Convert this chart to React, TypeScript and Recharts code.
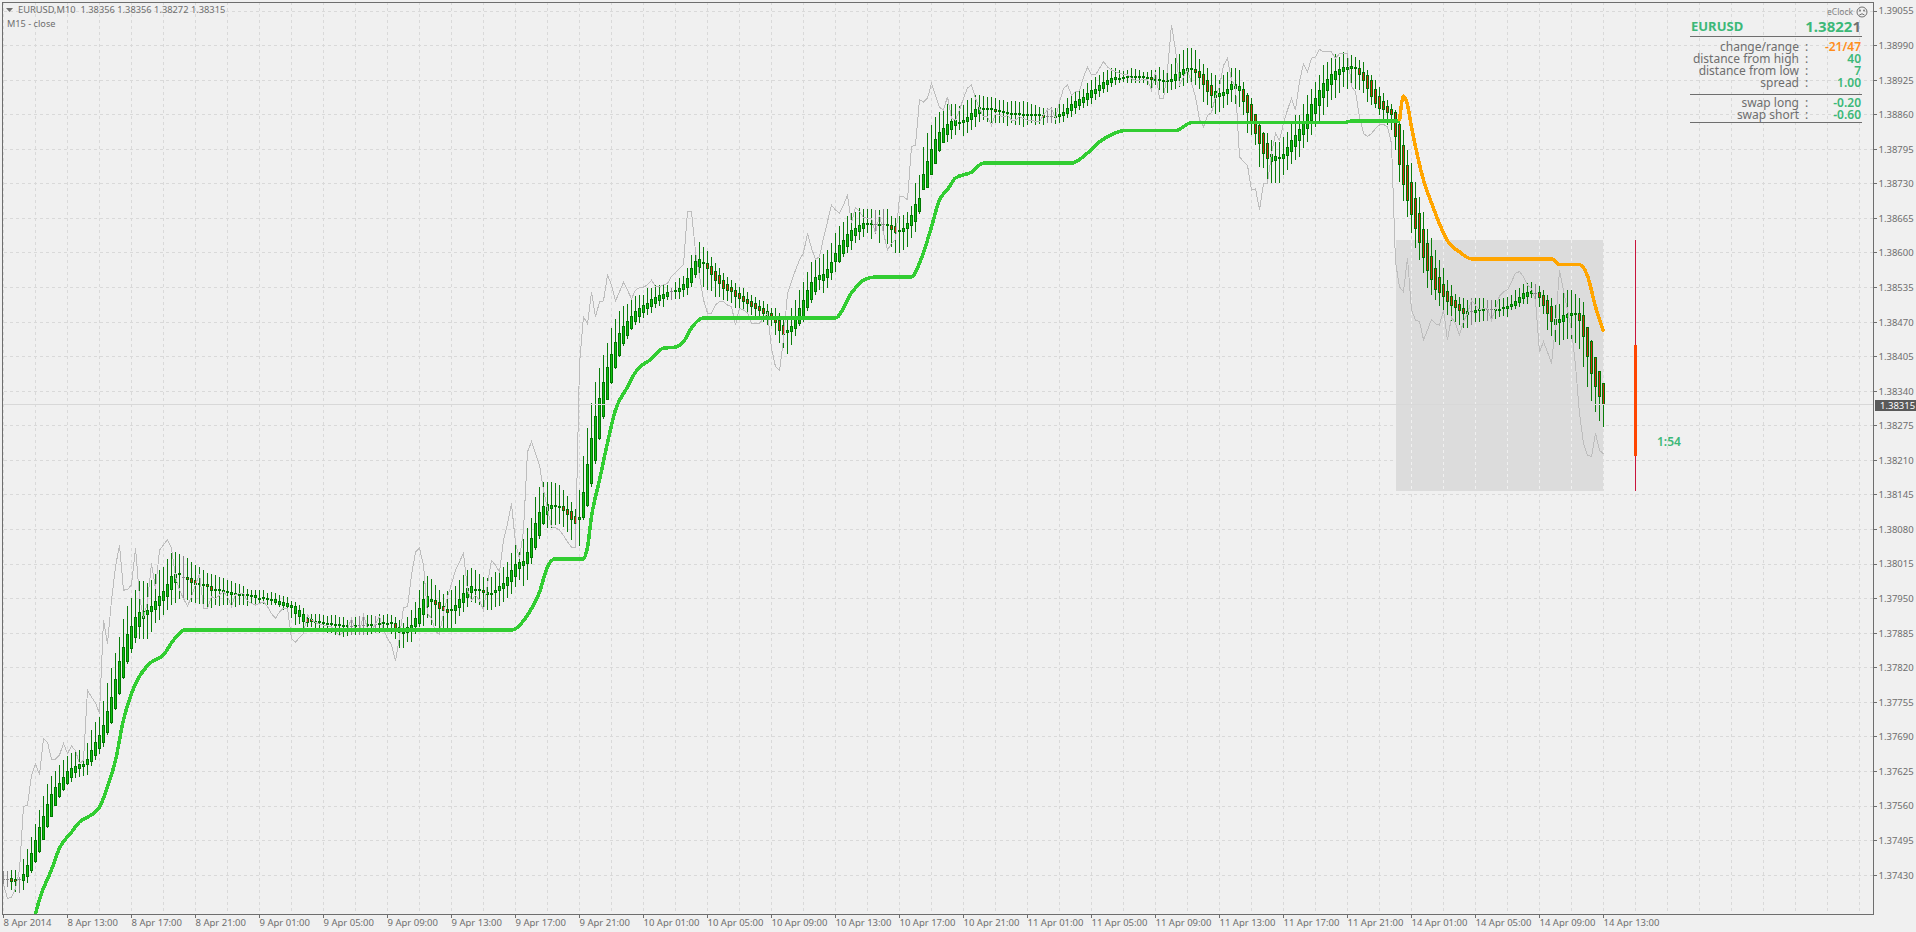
import { ComposedChart, Bar, Line, XAxis, YAxis, CartesianGrid, ReferenceArea, ReferenceLine } from "recharts";

// prices are kept as points (138356 = 1.38356)
const candleHigh = [
  137438,137438,137439,137439,137426,137461,137480,137502,137527,137552,
  137579,137601,137616,137626,137637,137646,137654,137659,137662,137665,
  137658,137678,137703,137718,137727,137757,137791,137819,137847,137878,
  137911,137936,137952,137967,137983,137983,137980,137985,137997,138004,
  138010,138024,138035,138038,138034,138030,138026,138018,138013,138010,
  138004,137999,137997,137994,137991,137988,137985,137984,137979,137977,
  137974,137969,137967,137967,137966,137966,137960,137963,137960,137957,
  137955,137954,137946,137944,137938,137932,137921,137922,137922,137922,
  137919,137917,137919,137919,137915,137915,137910,137915,137915,137917,
  137919,137919,137919,137917,137922,137919,137922,137919,137916,137910,
  137905,137916,137929,137944,137967,137983,137993,137987,137975,137967,
  137958,137965,137966,137974,137985,137994,138003,138007,138003,137997,
  137991,137988,137991,138000,138003,138010,138019,138035,138054,138038,
  138063,138082,138101,138141,138160,138170,138170,138170,138168,138163,
  138154,138143,138132,138119,138154,138218,138270,138317,138358,138383,
  138408,138431,138459,138476,138491,138500,138505,138514,138519,138521,
  138521,138534,138534,138540,138540,138540,138540,138534,138546,138553,
  138556,138571,138596,138606,138620,138612,138603,138593,138581,138571,
  138562,138554,138549,138543,138537,138534,138527,138521,138518,138512,
  138509,138504,138496,138496,138487,138480,138477,138496,138512,138531,
  138546,138565,138583,138590,138590,138598,138606,138618,138637,138650,
  138659,138669,138675,138678,138684,138683,138683,138682,138681,138681,
  138683,138682,138669,138665,138669,138672,138678,138689,138731,138747,
  138800,138825,138840,138856,138866,138872,138881,138880,138881,138876,
  138878,138888,138891,138897,138897,138895,138894,138893,138891,138888,
  138888,138884,138886,138886,138884,138886,138884,138881,138878,138875,
  138872,138872,138874,138872,138881,138881,138892,138897,138903,138906,
  138909,138919,138926,138931,138935,138941,138944,138948,138947,138944,
  138943,138944,138947,138946,138944,138941,138941,138944,138944,138950,
  138944,138947,138956,138966,138975,138982,138985,138985,138982,138964,
  138956,138947,138938,138935,138925,138935,138941,138947,138947,138944,
  138922,138900,138891,138862,138847,138828,138825,138812,138809,138809,
  138819,138828,138844,138859,138859,138881,138897,138909,138922,138935,
  138953,138960,138966,138975,138969,138978,138975,138972,138969,138963,
  138960,138945,138935,138925,138913,138900,138888,138881,138869,138851,
  138831,138794,138769,138734,138706,138678,138646,138628,138606,138587,
  138572,138549,138540,138523,138518,138515,138511,138515,138516,138515,
  138515,138511,138511,138511,138513,138515,138518,138521,138530,138535,
  138541,138543,138546,138541,138538,138530,138521,138515,138502,138505,
  138525,138530,138530,138523,138515,138508,138461,138436,138404,138378,
  138356,
];
const candleLow = [
  137413,137407,137402,137399,137397,137402,137416,137434,137452,137472,
  137496,137518,137539,137560,137576,137589,137599,137605,137613,137614,
  137616,137618,137635,137646,137658,137671,137693,137714,137740,137769,
  137799,137828,137848,137867,137875,137875,137875,137888,137905,137910,
  137919,137929,137938,137942,137950,137950,137947,137944,137942,137940,
  137938,137932,137932,137938,137936,137938,137938,137935,137935,137938,
  137938,137936,137940,137938,137942,137940,137938,137938,137938,137935,
  137929,137925,137913,137900,137903,137888,137897,137897,137892,137894,
  137891,137885,137885,137881,137881,137878,137880,137881,137881,137881,
  137881,137881,137883,137885,137885,137890,137888,137883,137875,137858,
  137858,137869,137869,137884,137897,137898,137913,137900,137898,137891,
  137891,137891,137891,137903,137917,137925,137934,137944,137941,137938,
  137931,137929,137929,137935,137936,137944,137952,137958,137972,137986,
  137973,137985,138016,138042,138063,138088,138082,138082,138088,138091,
  138085,138076,138060,138063,138049,138098,138123,138160,138204,138248,
  138287,138323,138353,138381,138405,138425,138439,138455,138464,138469,
  138477,138484,138487,138496,138500,138499,138512,138512,138513,138513,
  138518,138521,138537,138553,138556,138537,138531,138529,138518,138518,
  138512,138509,138506,138496,138493,138490,138487,138484,138480,138477,
  138471,138465,138462,138446,138430,138421,138411,138427,138443,138462,
  138471,138490,138506,138521,138531,138524,138534,138549,138565,138581,
  138593,138600,138606,138618,138625,138631,138637,138626,138636,138618,
  138637,138617,138612,138600,138600,138606,138612,138628,138640,138674,
  138718,138723,138746,138770,138790,138807,138809,138815,138822,138831,
  138820,138825,138831,138837,138847,138850,138847,138844,138844,138844,
  138844,138839,138844,138840,138840,138837,138840,138844,138840,138842,
  138840,138844,138844,138842,138844,138847,138853,138856,138862,138869,
  138872,138876,138881,138888,138893,138900,138903,138913,138916,138919,
  138922,138920,138919,138919,138919,138919,138916,138903,138916,138906,
  138900,138901,138906,138909,138913,138914,138919,138919,138916,138909,
  138884,138878,138872,138862,138866,138872,138878,138884,138881,138875,
  138859,138825,138822,138803,138762,138759,138737,138731,138731,138731,
  138746,138756,138768,138775,138781,138797,138809,138822,138837,138847,
  138859,138875,138888,138891,138900,138913,138909,138916,138909,138906,
  138900,138884,138878,138872,138859,138844,138841,138831,138793,138734,
  138697,138668,138638,138610,138587,138562,138534,138521,138512,138500,
  138493,138484,138473,138471,138464,138459,138459,138464,138471,138471,
  138473,138473,138474,138475,138479,138481,138479,138493,138494,138499,
  138504,138505,138515,138511,138499,138486,138455,138444,138433,138427,
  138436,138439,138439,138430,138419,138386,138348,138322,138301,138284,
  138272,
];
const candleOpen = [
  137423,137423,137424,137422,137422,137419,137426,137438,137454,137474,
  137497,137520,137540,137560,137577,137590,137601,137613,137623,137629,
  137634,137638,137643,137654,137668,137679,137697,137717,137742,137770,
  137800,137830,137856,137876,137896,137911,137919,137924,137929,137937,
  137945,137954,137967,137980,137996,137991,137990,137988,137985,137980,
  137977,137977,137974,137969,137964,137962,137960,137957,137956,137955,
  137957,137955,137953,137951,137951,137951,137950,137946,137942,137939,
  137937,137934,137932,137922,137915,137907,137913,137912,137907,137907,
  137905,137902,137902,137899,137898,137897,137897,137898,137897,137900,
  137900,137899,137899,137903,137901,137903,137903,137906,137905,137897,
  137888,137885,137891,137896,137903,137920,137935,137944,137947,137943,
  137937,137931,137927,137927,137933,137941,137952,137960,137966,137969,
  137967,137957,137960,137961,137965,137969,137973,137982,137991,138005,
  138012,138016,138027,138046,138068,138091,138108,138118,138123,138125,
  138125,138119,138114,138106,138098,138101,138125,138165,138208,138251,
  138291,138324,138355,138383,138407,138428,138444,138457,138471,138480,
  138488,138494,138499,138504,138510,138514,138518,138529,138526,138527,
  138530,138535,138544,138558,138571,138579,138581,138576,138566,138558,
  138549,138541,138536,138531,138524,138519,138514,138510,138506,138500,
  138496,138491,138487,138482,138474,138465,138449,138451,138457,138467,
  138480,138496,138512,138526,138549,138548,138553,138562,138583,138584,
  138598,138612,138622,138632,138639,138645,138652,138653,138654,138652,
  138655,138653,138652,138650,138640,138640,138645,138650,138659,138677,
  138718,138723,138746,138768,138792,138806,138822,138831,138839,138844,
  138845,138847,138851,138856,138862,138871,138869,138871,138870,138869,
  138864,138866,138863,138862,138862,138861,138861,138860,138859,138858,
  138859,138857,138857,138857,138856,138858,138861,138867,138873,138877,
  138883,138887,138892,138899,138905,138909,138915,138920,138925,138927,
  138928,138930,138930,138930,138930,138930,138929,138931,138926,138925,
  138923,138921,138921,138924,138930,138935,138940,138944,138946,138942,
  138936,138926,138916,138892,138894,138896,138899,138906,138908,138905,
  138909,138897,138881,138862,138840,138825,138806,138772,138773,138777,
  138777,138782,138790,138800,138811,138822,138834,138848,138862,138876,
  138892,138905,138916,138926,138935,138941,138944,138946,138946,138947,
  138941,138935,138925,138908,138895,138886,138877,138870,138865,138842,
  138803,138766,138733,138703,138675,138646,138618,138594,138571,138555,
  138541,138528,138519,138511,138504,138497,138491,138491,138488,138491,
  138491,138494,138494,138491,138491,138494,138495,138498,138500,138506,
  138513,138518,138522,138525,138526,138521,138511,138500,138475,138469,
  138471,138477,138481,138484,138487,138483,138461,138434,138404,138378,
  138356,
];
const candleClose = [
  137423,137423,137418,137418,137422,137432,137449,137471,137496,137520,
  137541,137564,137582,137595,137604,137614,137625,137631,137636,137640,
  137640,137648,137666,137681,137693,137712,137738,137766,137798,137832,
  137860,137883,137898,137915,137925,137927,137929,137937,137945,137955,
  137964,137977,137992,137997,137999,137991,137985,137980,137976,137976,
  137974,137971,137965,137966,137968,137966,137965,137962,137960,137959,
  137959,137958,137957,137956,137952,137954,137952,137950,137949,137945,
  137944,137941,137938,137936,137929,137922,137905,137907,137908,137908,
  137907,137905,137905,137903,137902,137900,137900,137898,137900,137900,
  137900,137902,137903,137903,137904,137906,137905,137902,137893,137885,
  137883,137897,137900,137914,137933,137950,137955,137949,137938,137931,
  137926,137923,137930,137939,137950,137961,137970,137973,137969,137965,
  137960,137963,137961,137967,137973,137980,137990,138003,138016,138019,
  138020,138037,138065,138093,138113,138125,138128,138126,138127,138123,
  138115,138108,138098,138091,138103,138151,138204,138253,138294,138328,
  138358,138385,138411,138432,138449,138462,138473,138482,138490,138496,
  138502,138506,138514,138517,138521,138523,138527,138529,138531,138534,
  138542,138553,138572,138585,138588,138583,138569,138558,138547,138541,
  138533,138529,138526,138518,138513,138507,138504,138499,138495,138490,
  138485,138480,138477,138468,138454,138445,138455,138463,138475,138497,
  138512,138530,138546,138554,138558,138561,138570,138583,138600,138615,
  138625,138636,138643,138647,138653,138656,138657,138656,138654,138655,
  138655,138655,138643,138638,138643,138647,138656,138672,138692,138703,
  138748,138773,138795,138814,138827,138835,138842,138848,138850,138847,
  138850,138856,138863,138871,138874,138872,138872,138872,138865,138865,
  138867,138861,138864,138863,138863,138862,138862,138861,138861,138861,
  138854,138857,138857,138858,138861,138865,138872,138880,138885,138889,
  138893,138900,138906,138909,138916,138921,138925,138930,138931,138930,
  138931,138933,138933,138933,138933,138933,138931,138926,138928,138928,
  138926,138925,138927,138936,138941,138946,138947,138948,138939,138930,
  138916,138903,138895,138905,138901,138903,138909,138917,138918,138914,
  138884,138864,138844,138824,138805,138786,138777,138786,138782,138781,
  138787,138800,138812,138822,138833,138847,138862,138880,138892,138906,
  138919,138928,138936,138943,138946,138949,138950,138951,138950,138935,
  138923,138908,138894,138881,138870,138868,138863,138860,138818,138766,
  138727,138697,138672,138645,138618,138590,138567,138549,138530,138525,
  138518,138508,138501,138497,138491,138486,138484,138491,138492,138494,
  138494,138494,138494,138494,138494,138498,138501,138505,138510,138518,
  138524,138527,138528,138525,138516,138501,138486,138471,138464,138476,
  138483,138486,138488,138487,138473,138442,138405,138372,138348,138330,
  138315,
];
// M15 close overlay
const m15Close = [
  137413,137386,137389,137405,137440,137559,137562,137618,137639,137619,
  137687,137680,137648,137648,137656,137678,137659,137673,137664,137640,
  137646,137778,137765,137754,137734,137910,137865,137947,138010,138051,
  137966,137967,137976,138045,137954,137913,137944,138016,137969,138041,
  138051,138061,138045,137991,137966,137950,137936,137954,137976,137997,
  137932,137932,137954,137950,137957,137963,137954,137935,137957,137960,
  137960,137946,137941,137938,137941,137944,137935,137922,137913,137925,
  137932,137932,137875,137868,137877,137885,137919,137911,137905,137902,
  137900,137899,137897,137888,137881,137888,137892,137913,137891,137888,
  137919,137894,137888,137903,137916,137891,137875,137863,137833,137878,
  137933,137935,137994,138038,138045,138013,137922,137913,137888,137883,
  137922,137953,137978,138003,138019,138036,137966,137947,137956,137947,
  137928,137978,138022,138013,138000,138060,138091,138129,138054,138025,
  138079,138226,138245,138223,138201,138154,138119,138085,138083,138079,
  138069,138057,138047,138046,138392,138480,138467,138527,138480,138508,
  138510,138558,138540,138510,138527,138545,138530,138514,138530,138535,
  138536,138540,138549,138537,138537,138540,138543,138556,138563,138571,
  138578,138678,138678,138603,138556,138512,138487,138487,138502,138509,
  138509,138502,138499,138465,138496,138493,138487,138468,138468,138468,
  138477,138487,138421,138386,138379,138437,138524,138546,138568,138587,
  138600,138637,138609,138588,138593,138628,138659,138690,138681,138675,
  138690,138709,138656,138686,138678,138667,138665,138665,138637,138672,
  138637,138606,138618,138625,138706,138706,138700,138800,138803,138888,
  138884,138891,138919,138897,138874,138869,138894,138853,138850,138869,
  138891,138910,138916,138891,138872,138856,138856,138840,138862,138859,
  138856,138859,138850,138850,138856,138853,138850,138850,138847,138847,
  138859,138869,138872,138853,138884,138909,138916,138897,138903,138905,
  138931,138949,138935,138935,138947,138960,138950,138944,138941,138938,
  138936,138935,138928,138925,138925,138926,138926,138906,138941,138891,
  138891,138944,139029,138982,138916,138931,138944,138919,138894,138851,
  138837,138859,138864,138894,138913,138953,138966,138925,138913,138781,
  138772,138765,138718,138721,138681,138731,138731,138787,138825,138812,
  138844,138869,138891,138869,138922,138956,138941,138966,138969,138983,
  138978,138978,138978,138966,138975,138975,138975,138913,138903,138856,
  138825,138819,138825,138834,138841,138842,138837,138806,138583,138536,
  138527,138591,138493,138474,138471,138437,138455,138475,138467,138464,
  138493,138436,138480,138467,138446,138471,138486,138511,138502,138493,
  138496,138496,138474,138496,138519,138527,138531,138546,138562,138565,
  138555,138540,138533,138511,138414,138433,138414,138392,138464,138568,
  138530,138493,138455,138389,138298,138242,138220,138217,138261,138229,
  138222,
];
// green indicator, read at its bends
const greenBars = [8,9,12,14,17,19,21,24,26,28,30,32,34,37,40,42,44,45,127,131,134,136,138,145,146,147,149,151,153,156,158,162,165,168,170,172,175,208,212,215,218,227,229,232,234,236,238,242,245,267,271,274,278,280,293,297,335,337,349];
const greenPrices = [137357,137385,137440,137481,137511,137530,137539,137558,137596,137646,137722,137772,137804,137831,137844,137867,137885,137891,137891,137919,137962,138010,138025,138025,138047,138104,138173,138243,138305,138348,138376,138401,138421,138423,138433,138459,138478,138478,138525,138549,138555,138555,138581,138649,138700,138719,138741,138752,138769,138769,138788,138809,138826,138830,138830,138845,138845,138848,138848];
const orangeBars = [349,350,351,352,353,355,357,359,361,364,367,387,389,394,396,398,400];
const orangePrices = [138848,138895,138878,138837,138800,138737,138694,138655,138623,138602,138589,138589,138578,138578,138557,138499,138452];

const priceTicks = [1.39055,1.3899,1.38925,1.3886,1.38795,1.3873,1.38665,1.386,1.38535,1.3847,1.38405,1.3834,1.38275,1.3821,1.38145,1.3808,1.38015,1.3795,1.37885,1.3782,1.37755,1.3769,1.37625,1.3756,1.37495,1.3743];
const timeLabels = ["8 Apr 2014","8 Apr 13:00","8 Apr 17:00","8 Apr 21:00","9 Apr 01:00","9 Apr 05:00","9 Apr 09:00","9 Apr 13:00","9 Apr 17:00","9 Apr 21:00","10 Apr 01:00","10 Apr 05:00","10 Apr 09:00","10 Apr 13:00","10 Apr 17:00","10 Apr 21:00","11 Apr 01:00","11 Apr 05:00","11 Apr 09:00","11 Apr 13:00","11 Apr 17:00","11 Apr 21:00","14 Apr 01:00","14 Apr 05:00","14 Apr 09:00","14 Apr 13:00"];
const panelRows = [
  { label: "change/range", value: "-21/47" },
  { label: "distance from high", value: "40" },
  { label: "distance from low", value: "7" },
  { label: "spread", value: "1.00" },
  { label: "swap long", value: "-0.20" },
  { label: "swap short", value: "-0.60" },
];

const FONT = "'Noto Sans', sans-serif";
const TEAL = "#3cb878";
const GRAY_TEXT = "#6e6e6e";
const WICK = "#0b7d0b";
const DOJI = "#8a8a8a";
const RANGE_HIGH = 1.38625;
const RANGE_LOW = 1.38152;

const toPrice = (points: number) => points / 100000;

const table = candleHigh.map((high, i) => ({
  bar: i,
  high: toPrice(high),
  low: toPrice(candleLow[i]),
  open: toPrice(candleOpen[i]),
  close: toPrice(candleClose[i]),
  m15: toPrice(m15Close[i]),
}));
const greenLine = greenBars.map((bar, i) => ({ bar, v: toPrice(greenPrices[i]) }));
const orangeLine = orangeBars.map((bar, i) => ({ bar, v: toPrice(orangePrices[i]) }));

const xTicks = Array.from({ length: 59 }, (_, k) => k * 8);
const rangeTicks = [352, 360, 368, 376, 384, 392, 400];
const currentPriceLine = [{ bar: 0, v: 1.38315 }, { bar: 467.5, v: 1.38315 }];

function Candle(props: any) {
  const { x, y, width, height, payload } = props;
  const cx = Math.floor(x + width / 2);
  const perUnit = height / (payload.high - payload.low);
  const top = Math.max(payload.open, payload.close);
  const bottom = Math.min(payload.open, payload.close);
  const bodyY = y + (payload.high - top) * perUnit;
  const bodyH = (top - bottom) * perUnit;
  // the range box's grid shows lighter, and has to sit under the candle
  const boxGrid = rangeTicks.includes(payload.bar) && (
    <line
      x1={cx + 0.5}
      x2={cx + 0.5}
      y1={y + (payload.high - RANGE_HIGH) * perUnit}
      y2={y + (payload.high - RANGE_LOW) * perUnit}
      stroke="#f0f0f0"
      strokeDasharray="3 3"
    />
  );
  if (top === bottom) {
    return (
      <g>
        {boxGrid}
        <rect x={cx} y={y} width={1} height={height} fill={DOJI} />
        <rect x={cx - 1} y={bodyY} width={3} height={1} fill={DOJI} />
      </g>
    );
  }
  const bear = payload.close < payload.open;
  return (
    <g>
      {boxGrid}
      <rect x={cx} y={y} width={1} height={height} fill={WICK} />
      <rect x={cx - 1} y={bodyY} width={3} height={Math.max(bodyH, 2)} fill="#007800" />
      {bodyH > 2 && (
        <rect x={cx} y={bodyY + 1} width={1} height={bodyH - 2} fill={bear ? "#d02a10" : "#10c010"} />
      )}
    </g>
  );
}

function TimeTick(props: any) {
  const { x, y, payload } = props;
  if (payload.value % 16 !== 0) return null;
  const label = timeLabels[payload.value / 16];
  if (!label) return null;
  return (
    <g>
      <line x1={x} x2={x} y1={y - 8} y2={y - 4} stroke="#6e6e6e" />
      <text x={x} y={y + 4} fontSize={9.5} fontFamily={FONT} fill="#6e6e6e">
        {label}
      </text>
    </g>
  );
}

function Panel() {
  const text = { position: "absolute", whiteSpace: "nowrap", fontFamily: FONT } as const;
  const rule = (top: number) => (
    <div style={{ position: "absolute", left: 1690, top, width: 172, height: 1, background: "#6e6e6e" }} />
  );
  const rowTops = [41, 53, 65, 77, 97, 109];
  return (
    <>
      <div style={{ ...text, left: 1827, top: 5, fontSize: 8.5, lineHeight: "14px", color: "#808080" }}>eClock</div>
      <svg style={{ position: "absolute", left: 1856, top: 6 }} width="12" height="12">
        <circle cx="6" cy="6" r="5" fill="none" stroke="#707070" />
        <circle cx="4" cy="4.5" r="0.9" fill="#707070" />
        <circle cx="8" cy="4.5" r="0.9" fill="#707070" />
        <path d="M3.5 9 Q6 6.5 8.5 9" fill="none" stroke="#707070" />
      </svg>
      <div style={{ ...text, left: 1691, top: 17, fontSize: 13, fontWeight: 700, lineHeight: "18px", color: TEAL }}>EURUSD</div>
      <div style={{ ...text, right: 55, top: 16, fontSize: 15, fontWeight: 700, lineHeight: "20px", color: TEAL }}>
        1.3822<span style={{ color: "#707070" }}>1</span>
      </div>
      {rule(36)}
      {panelRows.map((row, i) => (
        <div key={row.label}>
          <div style={{ ...text, right: 117, top: rowTops[i], fontSize: 12, lineHeight: "12px", color: GRAY_TEXT }}>{row.label}</div>
          <div style={{ ...text, left: 1805, top: rowTops[i], fontSize: 12, lineHeight: "12px", color: GRAY_TEXT }}>:</div>
          <div style={{ ...text, right: 55, top: rowTops[i], fontSize: 12, fontWeight: 600, lineHeight: "12px", color: i === 0 ? "#ff8c1a" : TEAL }}>{row.value}</div>
        </div>
      ))}
      {rule(94)}
      {rule(122)}
    </>
  );
}

export default function App() {
  const label = { position: "absolute", whiteSpace: "nowrap", fontFamily: FONT } as const;
  return (
    <div style={{ position: "absolute", left: 0, top: 0, width: 1916, height: 932, overflow: "hidden", background: "#f0f0f0" }}>
      <div style={{ shapeRendering: "crispEdges" } as any}>
        <ComposedChart
          width={1916}
          height={932}
          data={table}
          margin={{ top: 2, right: 0, bottom: 0, left: 3.5 }}
        >
          <ReferenceArea x1={348} x2={400} y1={RANGE_LOW} y2={RANGE_HIGH} fill="#dcdcdc" fillOpacity={1} stroke="none" />
          <CartesianGrid stroke="#d9d9d9" strokeDasharray="3 3" />
          <XAxis
            dataKey="bar"
            type="number"
            domain={[0, 467.5]}
            ticks={xTicks}
            height={18}
            axisLine={{ stroke: "#6e6e6e" }}
            tickLine={false}
            tick={<TimeTick />}
            interval={0}
          />
          <YAxis
            orientation="right"
            type="number"
            width={42.5}
            domain={[1.37357, 1.39072]}
            allowDataOverflow
            ticks={priceTicks}
            interval={0}
            axisLine={{ stroke: "#6e6e6e" }}
            tickLine={{ stroke: "#6e6e6e" }}
            tickSize={3}
            tickMargin={2}
            tickFormatter={(v: number) => v.toFixed(5)}
            tick={{ fontSize: 9.5, fontFamily: FONT, fill: "#6e6e6e" }}
          />
          <Line data={currentPriceLine} dataKey="v" stroke="#d8d8d8" strokeWidth={1} dot={false} isAnimationActive={false} />
          <Line dataKey="m15" type="linear" stroke="#bdbdbd" strokeWidth={1} dot={false} isAnimationActive={false} />
          <Bar dataKey={(d: any) => [d.low, d.high]} barSize={3} shape={<Candle />} isAnimationActive={false} />
          <Line data={greenLine} dataKey="v" type="monotoneX" stroke="#32cd32" strokeWidth={3.5} dot={false} isAnimationActive={false} />
          <Line data={orangeLine} dataKey="v" type="monotoneX" stroke="#ffa500" strokeWidth={3.5} dot={false} isAnimationActive={false} />
          <ReferenceLine segment={[{ x: 408, y: RANGE_LOW }, { x: 408, y: RANGE_HIGH }]} stroke="#c8143c" strokeWidth={1} />
          <ReferenceLine segment={[{ x: 408, y: 1.38218 }, { x: 408, y: 1.38427 }]} stroke="#ff4500" strokeWidth={3} />
        </ComposedChart>
      </div>

      <div style={{ position: "absolute", left: 2, top: 2, width: 1871, height: 912, borderLeft: "1px solid #6e6e6e", borderTop: "1px solid #6e6e6e", pointerEvents: "none" }} />
      <svg style={{ position: "absolute", left: 6, top: 8 }} width="8" height="5">
        <polygon points="0,0 7,0 3.5,4" fill="#6e6e6e" />
      </svg>
      <div style={{ ...label, left: 18, top: 3, fontSize: 9.3, lineHeight: "14px", color: GRAY_TEXT, whiteSpace: "pre" }}>
        EURUSD,M10  1.38356 1.38356 1.38272 1.38315
      </div>
      <div style={{ ...label, left: 7, top: 17, fontSize: 9.2, lineHeight: "14px", color: GRAY_TEXT }}>M15 - close</div>
      <div style={{ ...label, left: 1657, top: 434, fontSize: 12, fontWeight: 600, lineHeight: "16px", color: TEAL }}>1:54</div>
      <div style={{ ...label, left: 1875, top: 400, width: 41, height: 11, background: "#5a5a5a", color: "#fff", fontSize: 9.5, lineHeight: "11px", paddingLeft: 5, boxSizing: "border-box" }}>
        1.38315
      </div>
      <Panel />
    </div>
  );
}
